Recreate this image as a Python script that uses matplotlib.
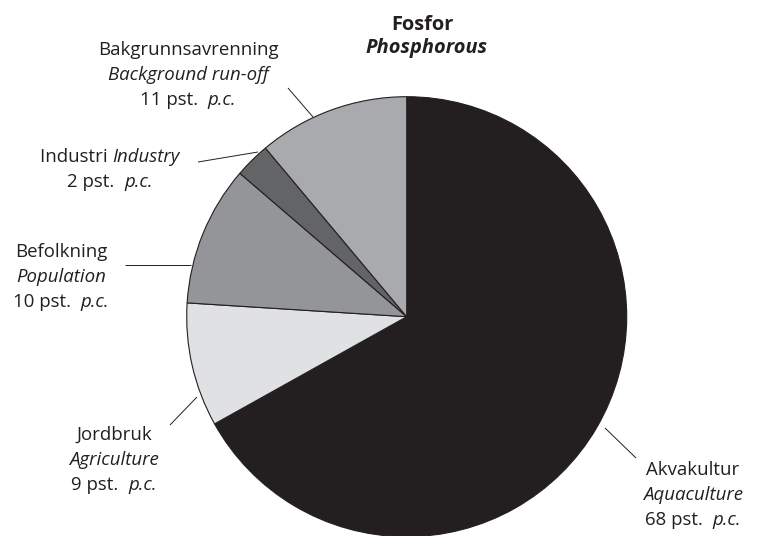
import matplotlib
matplotlib.use("Agg")
import matplotlib.pyplot as plt
from matplotlib.offsetbox import TextArea, HPacker, AnnotationBbox

# Data (clockwise from 12 o'clock)
categories_no = ["Akvakultur", "Jordbruk", "Befolkning", "Industri", "Bakgrunnsavrenning"]
categories_en = ["Aquaculture", "Agriculture", "Population", "Industry", "Background run-off"]
slice_values = [66.9, 9.1, 10.3, 2.6, 11.1]
label_pct = [68, 9, 10, 2, 11]
colors = ["#231f20", "#e0e1e3", "#939598", "#636466", "#a8aaad"]

W, H = 757, 536
plt.rcParams['font.family'] = ['Open Sans', 'DejaVu Sans']
fig = plt.figure(figsize=(W / 100, H / 100), dpi=100)
ax = fig.add_axes([0, 0, 1, 1])

cx, cy, r = 406.7, H - 316.7, 220
ax.pie(slice_values, colors=colors, startangle=90, counterclock=False,
       center=(cx, cy), radius=r, frame=True,
       wedgeprops=dict(edgecolor="#231f20", linewidth=0.8))
ax.set_xlim(0, W)
ax.set_ylim(0, H)
ax.axis('off')

fs = 13.4
tfs = 14.4
tc = "#231f20"


def py(y):
    return H - y


def packed(x, y, parts):
    children = [TextArea(s, textprops=dict(fontsize=fs, color=tc, fontstyle=st))
                for s, st in parts]
    pk = HPacker(children=children, pad=0, sep=0, align='baseline')
    ab = AnnotationBbox(pk, (x, py(y)), frameon=False, box_alignment=(0.5, 0.5), pad=0)
    ax.add_artist(ab)


def pct_text(x, y, i):
    packed(x, y, [(f"{label_pct[i]} pst.  ", 'normal'), ("p.c.", 'italic')])


def block(x, y0, i, dy=25):
    ax.text(x, py(y0), categories_no[i], ha='center', va='center', fontsize=fs, color=tc)
    ax.text(x, py(y0 + dy), categories_en[i], ha='center', va='center', fontsize=fs,
            fontstyle='italic', color=tc)
    pct_text(x, y0 + 2 * dy, i)


# Title
ax.text(422, py(25), "Fosfor", ha='center', va='center', fontsize=tfs, fontweight='bold', color=tc)
ax.text(427, py(48), "Phosphorous", ha='center', va='center', fontsize=tfs, fontweight='bold',
        fontstyle='italic', color=tc)

# Background run-off
block(188, 50, 4)
# Industry (inline)
packed(110, 157, [(categories_no[3] + " ", 'normal'), (categories_en[3], 'italic')])
pct_text(110, 182, 3)
# Population
block(61, 252, 2)
# Agriculture
block(114, 435, 1)
# Aquaculture
block(693, 470, 0)

# Leader lines
lw = 0.7
leaders = [((288, 88), (313, 117)),
           ((198, 162), (258, 152)),
           ((125, 265), (191, 265)),
           ((170, 425), (197, 397)),
           ((605, 428), (636, 458))]
for (x1, y1), (x2, y2) in leaders:
    ax.plot([x1, x2], [py(y1), py(y2)], color=tc, lw=lw, solid_capstyle='butt')

fig.savefig("out.png", dpi=100)
